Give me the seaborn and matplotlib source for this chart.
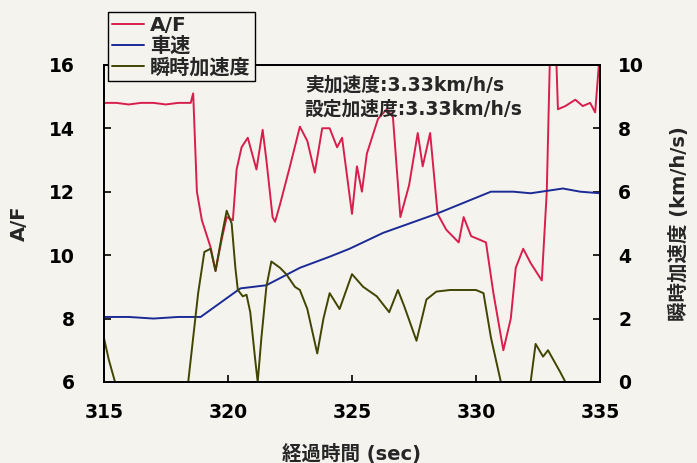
import matplotlib
matplotlib.use("Agg")
import matplotlib.pyplot as plt
import seaborn as sns

# === data ===
t_af = [315.0, 315.5, 316.0, 316.5, 317.0, 317.5, 318.0, 318.5, 318.6, 318.75, 318.95,
        319.3, 319.5, 319.75, 319.95, 320.2, 320.35, 320.55, 320.8, 321.15, 321.4, 321.55,
        321.8, 321.9, 322.1, 322.5, 322.9, 323.2, 323.5, 323.8, 324.1, 324.4, 324.6,
        325.0, 325.2, 325.4, 325.6, 326.05, 326.4, 326.65, 326.95, 327.3, 327.65, 327.85,
        328.15, 328.45, 328.8, 329.3, 329.5, 329.8, 330.4, 330.7, 331.1, 331.4, 331.6,
        331.9, 332.2, 332.65, 332.85, 333.0, 333.2, 333.3, 333.6, 334.0, 334.3, 334.6,
        334.8, 335.0]
af = [14.8, 14.8, 14.75, 14.8, 14.8, 14.75, 14.8, 14.8, 15.1, 12.0, 11.1,
      10.25, 9.5, 10.5, 11.2, 11.1, 12.7, 13.4, 13.7, 12.7, 13.95, 13.0,
      11.2, 11.05, 11.6, 12.8, 14.05, 13.6, 12.6, 14.0, 14.0, 13.4, 13.7,
      11.3, 12.8, 12.0, 13.2, 14.3, 14.6, 14.35, 11.2, 12.2, 13.85, 12.8,
      13.85, 11.3, 10.8, 10.4, 11.2, 10.6, 10.4, 8.8, 7.0, 8.0, 9.6,
      10.2, 9.75, 9.2, 12.0, 17.0, 17.0, 14.6, 14.7, 14.9, 14.7, 14.8,
      14.5, 16.5]

t_speed = [315.0, 316.0, 317.0, 318.0, 318.9, 319.7, 320.5, 321.55, 322.9, 324.1,
           324.9, 326.25, 328.4, 330.6, 331.5, 332.2, 333.5, 334.2, 335.0]
speed = [2.05, 2.05, 2.0, 2.05, 2.05, 2.5, 2.95, 3.05, 3.6, 3.95,
         4.2, 4.7, 5.3, 6.0, 6.0, 5.95, 6.1, 6.0, 5.95]

t_acc = [315.0, 315.2, 315.45, 316.5, 317.5, 318.4, 318.8, 319.05, 319.3, 319.5,
         319.75, 319.95, 320.15, 320.3, 320.4, 320.6, 320.75, 320.9, 321.1, 321.2,
         321.35, 321.55, 321.75, 322.1, 322.35, 322.7, 322.9, 323.2, 323.6, 323.85,
         324.1, 324.5, 325.0, 325.45, 326.0, 326.5, 326.85, 327.1, 327.6, 328.0,
         328.4, 328.95, 329.5, 330.0, 330.3, 330.6, 331.0, 331.5, 332.2, 332.4,
         332.7, 332.9, 333.4, 333.6]
acc = [1.4, 0.7, 0.0, 0.0, 0.0, 0.0, 2.8, 4.1, 4.2, 3.5,
       4.6, 5.4, 5.0, 3.6, 2.9, 2.7, 2.75, 2.2, 0.7, 0.0,
       1.4, 3.0, 3.8, 3.6, 3.4, 3.0, 2.9, 2.3, 0.9, 2.0,
       2.8, 2.3, 3.4, 3.0, 2.7, 2.2, 2.9, 2.4, 1.3, 2.6,
       2.85, 2.9, 2.9, 2.9, 2.8, 1.4, 0.0, 0.0, 0.0, 1.2,
       0.8, 1.0, 0.3, 0.0]

bg = "#f4f3ee"
red = "#d81e4c"
blue = "#1c2a96"
olive = "#404500"

sns.set_style("ticks")
# latin in DejaVu (wide, like the original), kanji falls back to Noto CJK
plt.rcParams["font.family"] = ["DejaVu Sans", "Noto Sans CJK JP"]
plt.rcParams["font.weight"] = "bold"

fig = plt.figure(figsize=(6.97, 4.63), dpi=100, facecolor=bg)
ax = fig.add_axes([0.149, 0.175, 0.712, 0.685], facecolor=bg)
ax2 = ax.twinx()

sns.lineplot(x=t_af, y=af, ax=ax, color=red, linewidth=1.4, label="A/F", legend=False)
sns.lineplot(x=t_speed, y=speed, ax=ax2, color=blue, linewidth=1.4, label="車速", legend=False)
sns.lineplot(x=t_acc, y=acc, ax=ax2, color=olive, linewidth=1.4, label="瞬時加速度", legend=False)

ax.set_xlim(315, 335)
ax.set_ylim(6, 16)
ax2.set_ylim(0, 10)
ax.set_xticks([315, 320, 325, 330, 335])
ax.set_yticks([6, 8, 10, 12, 14, 16])
ax2.set_yticks([0, 2, 4, 6, 8, 10])

for a in (ax, ax2):
    for s in a.spines.values():
        s.set_color("black")
        s.set_linewidth(1.3)
    a.tick_params(direction="in", length=5, width=1.2, labelsize=13.5, colors="black")
ax.tick_params(axis="x", pad=15)
ax.tick_params(axis="y", pad=21)
ax2.tick_params(axis="y", pad=13)

ax.set_xlabel("経過時間 (sec)", fontsize=14, fontweight="bold", labelpad=16)
ax.set_ylabel("A/F", fontsize=14, fontweight="bold", labelpad=14)
ax2.set_ylabel("瞬時加速度 (km/h/s)", fontsize=14, fontweight="bold", labelpad=18)

ax2.text(0.405, 0.937, "実加速度:3.33km/h/s", transform=ax2.transAxes,
         fontsize=13.5, fontweight="bold", va="center", ha="left")
ax2.text(0.405, 0.861, "設定加速度:3.33km/h/s", transform=ax2.transAxes,
         fontsize=13.5, fontweight="bold", va="center", ha="left")

h1, l1 = ax.get_legend_handles_labels()
h2, l2 = ax2.get_legend_handles_labels()
leg = ax2.legend(h1 + h2, l1 + l2, loc="upper left", bbox_to_anchor=(0.008, 1.166),
                 fontsize=14.5, handlelength=1.6, handletextpad=0.3, labelspacing=0.08,
                 borderpad=0.2, fancybox=False, framealpha=1, facecolor=bg,
                 edgecolor="black", borderaxespad=0)
leg.get_frame().set_linewidth(1.0)
leg.set_zorder(10)

fig.savefig("out.png", dpi=100, facecolor=bg)
